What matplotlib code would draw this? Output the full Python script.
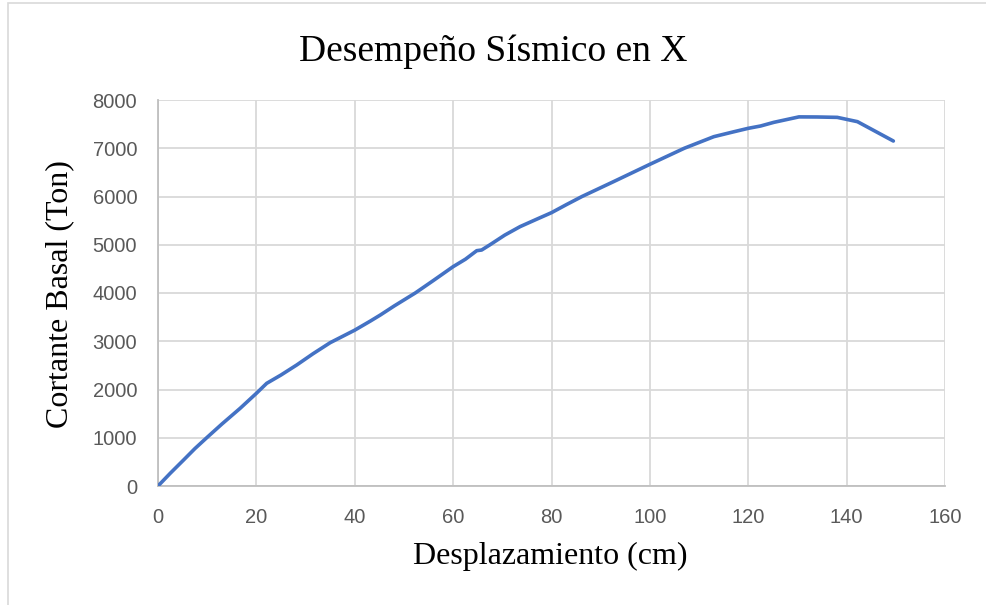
import matplotlib
matplotlib.use("Agg")
import matplotlib.pyplot as plt
from matplotlib.patches import Rectangle

# Pushover curve: displacement (cm) vs base shear (Ton)
desplazamiento = [0, 2.5, 5.2, 7.5, 9.9, 13.0, 16.7, 20.0, 22.1, 25.0, 28.2,
                  31.5, 35.0, 40.0, 43.2, 45.2, 48.0, 52.3, 56.0, 60.0, 62.5,
                  64.8, 65.8, 67.5, 70.5, 73.6, 77.0, 80.0, 83.0, 86.2, 92.6,
                  100.0, 107.0, 113.0, 117.0, 120.0, 122.5, 125.2, 130.3,
                  134.0, 138.1, 142.2, 149.5]
cortante = [0, 265, 539, 775, 1000, 1285, 1610, 1921, 2128, 2300, 2508,
            2740, 2970, 3230, 3420, 3544, 3730, 4000, 4260, 4546, 4700,
            4877, 4891, 5000, 5200, 5375, 5530, 5665, 5830, 6000, 6307,
            6667, 7000, 7240, 7340, 7413, 7461, 7537, 7650,
            7648, 7640, 7551, 7150]

x_ticks = [0, 20, 40, 60, 80, 100, 120, 140, 160]
y_ticks = [0, 1000, 2000, 3000, 4000, 5000, 6000, 7000, 8000]

titulo = "Desempeño Sísmico en X"
etiqueta_x = "Desplazamiento (cm)"
etiqueta_y = "Cortante Basal (Ton)"

fig = plt.figure(figsize=(9.86, 6.05), dpi=100)
ax = fig.add_axes([158 / 986, 1 - 486 / 605, (945 - 158) / 986, (486 - 100) / 605])

ax.plot(desplazamiento, cortante, color="#4472C4", linewidth=2.6,
        solid_capstyle="round", solid_joinstyle="round", zorder=3)

ax.set_xlim(0, 160)
ax.set_ylim(0, 8000)
ax.set_xticks(x_ticks)
ax.set_yticks(y_ticks)
ax.grid(True, color="#d9d9d9", linewidth=1.3)
ax.set_axisbelow(True)

for side in ("top", "right"):
    ax.spines[side].set_visible(False)
for side in ("left", "bottom"):
    ax.spines[side].set_color("#bfbfbf")
    ax.spines[side].set_linewidth(1.3)

ax.tick_params(axis="both", length=0, colors="#595959")
ax.tick_params(axis="x", pad=16)
ax.tick_params(axis="y", pad=15)
for lbl in ax.get_xticklabels() + ax.get_yticklabels():
    lbl.set_fontfamily(["Liberation Sans", "DejaVu Sans"])
    lbl.set_fontsize(14.5)

serif = ["Liberation Serif", "DejaVu Serif"]
fig.text(0.5, 1 - 52 / 605, titulo, ha="center", va="center",
         fontsize=27, family=serif, color="black")
fig.text((415 + 686) / 2 / 986, 1 - 556 / 605, etiqueta_x, ha="center", va="center",
         fontsize=23, family=serif, color="black")
fig.text(60 / 986, 1 - 294 / 605, etiqueta_y, ha="center", va="center",
         rotation=90, fontsize=23, family=serif, color="black")

# Light chart-area frame
fig.patches.append(Rectangle((8 / 986, -0.1), 1.2, 1.1 - 3 / 605,
                             transform=fig.transFigure, fill=False,
                             edgecolor="#d9d9d9", linewidth=1.2))

fig.savefig("out.png", dpi=100, facecolor="white")
